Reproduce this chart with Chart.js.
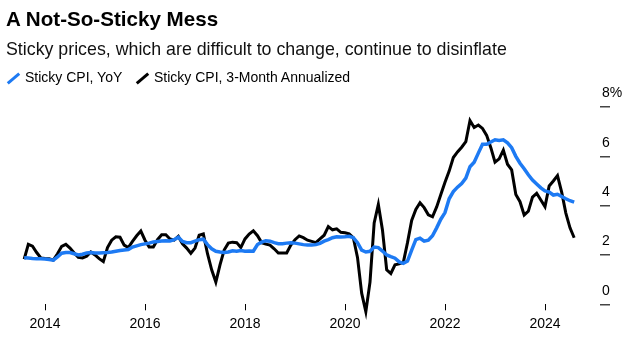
<!DOCTYPE html>
<html>
<head>
<meta charset="utf-8">
<script src="https://cdn.jsdelivr.net/npm/chart.js@4.4.1/dist/chart.umd.min.js"></script>
<style>
  html, body { margin: 0; padding: 0; background: #fff; }
  #wrap { position: relative; width: 637px; height: 341px; font-family: "Liberation Sans", Arial, sans-serif; color: #000; }
  #chart { position: absolute; left: 0; top: 0; }
  .title { position: absolute; left: 6px; top: 9px; font-size: 20.6px; line-height: 20px; font-weight: bold; white-space: nowrap; }
  .subtitle { position: absolute; left: 6px; top: 40px; font-size: 17.8px; line-height: 18px; white-space: nowrap; color: #111; }
  .legend-text { position: absolute; top: 70px; font-size: 14px; line-height: 14px; white-space: nowrap; }
  .legend-icon { position: absolute; width: 3px; height: 15px; transform: rotate(50deg); }
</style>
</head>
<body>
<div id="wrap">
  <canvas id="chart" width="637" height="341"></canvas>
  <div class="title">A Not-So-Sticky Mess</div>
  <div class="subtitle">Sticky prices, which are difficult to change, continue to disinflate</div>
  <span class="legend-icon" style="left:12px; top:71px; background:#1d7af3;"></span>
  <div class="legend-text" style="left:25px;">Sticky CPI, YoY</div>
  <span class="legend-icon" style="left:141px; top:71px; background:#000;"></span>
  <div class="legend-text" style="left:154px;">Sticky CPI, 3-Month Annualized</div>
</div>
<script>
// 月度数据，起点 2013年8月，终点 2024年8月
const START_YEAR = 2013;
const START_MONTH = 8;

const yoyValues = [
  1.89, 1.88, 1.86, 1.85, 1.85, 1.84, 1.82, 1.79, 1.92, 2.07, 2.10, 2.10,
  2.05, 2.00, 2.03, 2.08, 2.10, 2.08, 2.08, 2.09, 2.10, 2.12, 2.15, 2.18,
  2.20, 2.22, 2.32, 2.37, 2.42, 2.45, 2.48, 2.53, 2.55, 2.57, 2.58, 2.57,
  2.62, 2.72, 2.55, 2.50, 2.50, 2.56, 2.62, 2.64, 2.42, 2.25, 2.15, 2.12,
  2.10, 2.12, 2.17, 2.15, 2.18, 2.15, 2.16, 2.15, 2.42, 2.52, 2.58, 2.56,
  2.50, 2.46, 2.46, 2.48, 2.50, 2.48, 2.45, 2.42, 2.40, 2.40, 2.42, 2.47,
  2.56, 2.62, 2.70, 2.74, 2.73, 2.74, 2.76, 2.70, 2.50, 2.20, 2.12, 2.15,
  2.32, 2.30, 2.16, 2.00, 1.93, 1.87, 1.72, 1.66, 1.75, 2.20, 2.62, 2.68,
  2.56, 2.60, 2.78, 3.10, 3.45, 3.72, 4.28, 4.57, 4.75, 4.90, 5.12, 5.58,
  5.76, 6.13, 6.49, 6.49, 6.58, 6.67, 6.64, 6.67, 6.55, 6.35, 6.00, 5.72,
  5.50, 5.25, 5.04, 4.88, 4.72, 4.60, 4.55, 4.43, 4.46, 4.37, 4.28, 4.20,
  4.14
];

const annualizedValues = [
  1.83, 2.43, 2.36, 2.10, 1.88, 1.86, 1.85, 1.79, 2.05, 2.35, 2.43, 2.28,
  2.08, 1.90, 1.88, 1.95, 2.12, 2.00, 1.85, 1.73, 2.30, 2.60, 2.74, 2.72,
  2.40, 2.30, 2.55, 2.78, 2.97, 2.60, 2.32, 2.32, 2.62, 2.82, 2.82, 2.65,
  2.60, 2.75, 2.45, 2.28, 2.07, 2.28, 2.80, 2.85, 2.05, 1.40, 0.90, 1.60,
  2.20, 2.48, 2.52, 2.50, 2.30, 2.65, 2.85, 2.98, 2.78, 2.50, 2.44, 2.40,
  2.25, 2.08, 2.08, 2.08, 2.40, 2.62, 2.77, 2.70, 2.60, 2.55, 2.50, 2.65,
  2.80, 3.15, 3.02, 3.06, 2.92, 2.90, 2.86, 2.70, 1.90, 0.45, -0.30, 0.90,
  3.30, 4.05, 3.00, 1.40, 1.25, 1.60, 1.64, 1.70, 2.50, 3.40, 3.85, 4.12,
  3.92, 3.63, 3.55, 3.95, 4.45, 4.95, 5.40, 5.95, 6.18, 6.37, 6.60, 7.45,
  7.17, 7.27, 7.13, 6.85, 6.35, 5.76, 5.90, 6.25, 5.68, 5.45, 4.45, 4.16,
  3.62, 3.78, 4.35, 4.50, 4.23, 3.96, 4.80, 5.00, 5.22, 4.55, 3.70, 3.10,
  2.70
];

const yearTicks = [2014, 2016, 2018, 2020, 2022, 2024];
const valueTicks = [0, 2, 4, 6, 8];

// 把月份序号换成年份小数，交给线性x轴
function toPoints(values) {
  return values.map((v, i) => ({ x: START_YEAR + (START_MONTH - 1 + i) / 12, y: v }));
}

const ctx = document.getElementById('chart').getContext('2d');
new Chart(ctx, {
  type: 'line',
  data: {
    datasets: [
      {
        label: 'Sticky CPI, YoY',
        data: toPoints(yoyValues),
        borderColor: '#1d7af3',
        borderWidth: 3.5,
        pointRadius: 0,
        tension: 0,
        clip: false
      },
      {
        label: 'Sticky CPI, 3-Month Annualized',
        data: toPoints(annualizedValues),
        borderColor: '#000',
        borderWidth: 3,
        pointRadius: 0,
        tension: 0,
        clip: false
      }
    ]
  },
  options: {
    responsive: false,
    animation: false,
    layout: { padding: { top: 107, left: 0, right: 0, bottom: 0 } },
    plugins: {
      legend: { display: false },
      tooltip: { enabled: false }
    },
    scales: {
      x: {
        type: 'linear',
        min: 2013.1,
        max: 2025.1,
        border: { display: false },
        grid: { drawOnChartArea: false, drawTicks: true, tickLength: 6, tickColor: '#000', lineWidth: 1 },
        afterBuildTicks: axis => { axis.ticks = yearTicks.map(v => ({ value: v })); },
        afterFit: axis => { axis.height = 36.7; },
        ticks: {
          padding: 5,
          color: '#000',
          font: { family: 'Liberation Sans', size: 14 },
          callback: v => String(v)
        }
      },
      y: {
        position: 'right',
        min: 0,
        max: 8,
        border: { display: false },
        grid: { drawOnChartArea: false, drawTicks: true, tickLength: 10, tickColor: '#444', lineWidth: 1.5 },
        afterBuildTicks: axis => { axis.ticks = valueTicks.map(v => ({ value: v })); },
        afterFit: axis => { axis.width = 37; },
        ticks: {
          padding: -8,
          labelOffset: -13.5,
          color: '#000',
          font: { family: 'Liberation Sans', size: 14 },
          callback: v => (v === 8 ? '8%' : String(v))
        }
      }
    }
  }
});
</script>
</body>
</html>
